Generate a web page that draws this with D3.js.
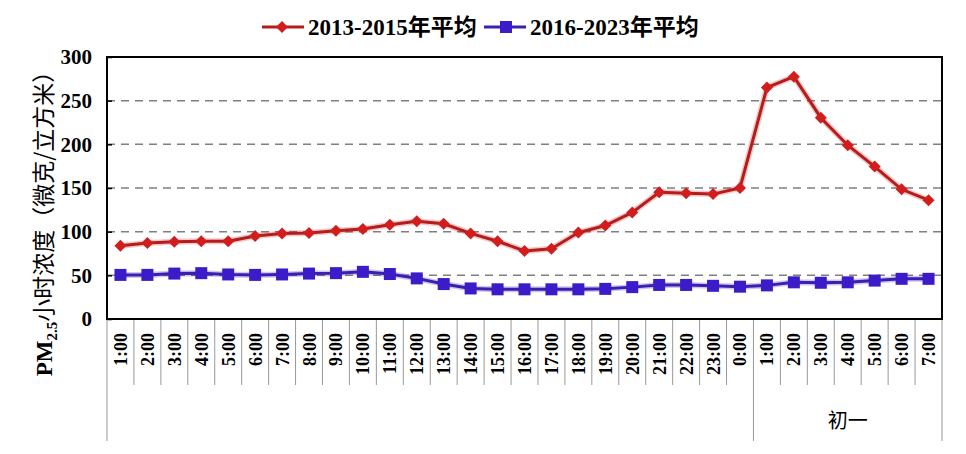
<!DOCTYPE html>
<html>
<head>
<meta charset="utf-8">
<script src="https://cdn.jsdelivr.net/npm/d3@7"></script>
<style>
  body { margin: 0; background: #fff; }
  svg { display: block; }
</style>
</head>
<body>
<div id="chart"></div>
<script>
// hour labels: eve 1:00 .. 0:00, then 初一 1:00 .. 7:00
var hours = ["1:00","2:00","3:00","4:00","5:00","6:00","7:00","8:00","9:00","10:00",
    "11:00","12:00","13:00","14:00","15:00","16:00","17:00","18:00","19:00","20:00",
    "21:00","22:00","23:00","0:00","1:00","2:00","3:00","4:00","5:00","6:00","7:00"];
var groups = [{label: "", count: 24}, {label: "初一", count: 7}];

var avg2013 = [84, 87, 88.5, 89, 89, 95, 98, 98.5, 101, 103,
    108, 112, 109, 98, 89, 78, 80.5, 99, 107, 122,
    145, 144, 143, 150, 265, 277.5, 230.5, 199, 174.5, 148.5, 136];
var avg2016 = [50.5, 50.5, 52, 52.5, 51, 50.5, 51, 52, 52.5, 54,
    51.5, 46.5, 40, 35, 34, 34, 34, 34, 34.5, 36.5,
    39, 39, 38, 37, 38.5, 42, 41.5, 42, 44, 46, 46];
var yTicks = [0, 50, 100, 150, 200, 250, 300];

var seriesNames = ["2013-2015年平均", "2016-2023年平均"];
var seriesColors = ["#d21d1d", "#3b1cc8"];

function main() {
    var W = 966, H = 454;
    var margin = {top: 57, right: 24, bottom: 135, left: 107};
    var width = W - margin.left - margin.right;
    var height = H - margin.top - margin.bottom;

    var svg = d3.select("#chart").append("svg")
        .attr("width", W)
        .attr("height", H);

    var g = svg.append("g")
        .attr("transform", `translate(${margin.left}, ${margin.top})`);

    var idx = d3.range(hours.length);
    var xScale = d3.scaleBand()
        .domain(idx)
        .range([0, width])
        .padding(0);

    var yScale = d3.scaleLinear()
        .domain([0, 300])
        .range([height, 0]);

    var serif = "'Liberation Serif', 'Times New Roman', 'Noto Sans CJK SC', serif";

    // dashed gridlines
    g.selectAll(".grid")
        .data(yTicks.filter(function(d) { return d > 0 && d < 300; }))
        .enter()
        .append("line")
        .attr("x1", 0)
        .attr("x2", width)
        .attr("y1", function(d) { return yScale(d); })
        .attr("y2", function(d) { return yScale(d); })
        .attr("stroke", "#7f7f7f")
        .attr("stroke-width", 1.5)
        .attr("stroke-dasharray", "8,6");

    // y axis
    var yAxis = g.append("g")
        .call(d3.axisLeft(yScale).tickValues(yTicks).tickSize(-5).tickPadding(15));
    yAxis.select(".domain").remove();
    yAxis.selectAll("line").attr("stroke", "#000").attr("stroke-width", 1.5);
    yAxis.selectAll("text")
        .style("font-family", serif)
        .style("font-weight", "bold")
        .style("font-size", "21px")
        .attr("fill", "#000");

    // category separators under the axis
    var bounds = d3.range(hours.length + 1);
    g.selectAll(".sep")
        .data(bounds)
        .enter()
        .append("line")
        .attr("x1", function(i) { return i * xScale.step(); })
        .attr("x2", function(i) { return i * xScale.step(); })
        .attr("y1", height)
        .attr("y2", function(i) {
            return (i === 0 || i === 24 || i === hours.length) ? height + 122 : height + 66;
        })
        .attr("stroke", "#999")
        .attr("stroke-width", 1);

    // hour labels, rotated
    g.selectAll(".hour")
        .data(idx)
        .enter()
        .append("text")
        .attr("transform", function(i) {
            return `translate(${xScale(i) + xScale.bandwidth() / 2 + 6.5}, ${height + 14}) rotate(-90)`;
        })
        .attr("text-anchor", "end")
        .style("font-family", serif)
        .style("font-weight", "bold")
        .style("font-size", "18px")
        .text(function(i) { return hours[i]; });

    // group labels
    var start = 0;
    groups.forEach(function(gr) {
        var cx = (start + gr.count / 2) * xScale.step();
        g.append("text")
            .attr("x", cx)
            .attr("y", height + 109)
            .attr("text-anchor", "middle")
            .style("font-family", "'Noto Sans CJK SC', sans-serif")
            .style("font-size", "20px")
            .text(gr.label);
        start += gr.count;
    });

    // lines
    var line = d3.line()
        .x(function(d, i) { return xScale(i) + xScale.bandwidth() / 2; })
        .y(function(d) { return yScale(d); });

    [avg2013, avg2016].forEach(function(vals, s) {
        g.append("path")
            .datum(vals)
            .attr("fill", "none")
            .attr("stroke", seriesColors[s])
            .attr("stroke-opacity", 0.25)
            .attr("stroke-width", 6)
            .attr("d", line);
        g.append("path")
            .datum(vals)
            .attr("fill", "none")
            .attr("stroke", s === 0 ? "#b51c1c" : "#3a1fb0")
            .attr("stroke-width", 3)
            .attr("d", line);
    });

    var diamond = d3.symbol().type(d3.symbolSquare).size(72);
    g.selectAll(".redPt")
        .data(avg2013)
        .enter()
        .append("path")
        .attr("d", diamond)
        .attr("transform", function(d, i) {
            return `translate(${xScale(i) + xScale.bandwidth() / 2}, ${yScale(d)}) rotate(45)`;
        })
        .attr("fill", seriesColors[0]);

    g.selectAll(".bluePt")
        .data(avg2016)
        .enter()
        .append("rect")
        .attr("x", function(d, i) { return xScale(i) + xScale.bandwidth() / 2 - 6; })
        .attr("y", function(d) { return yScale(d) - 6; })
        .attr("width", 12)
        .attr("height", 12)
        .attr("fill", seriesColors[1]);

    // frame
    g.append("rect")
        .attr("x", 0)
        .attr("y", 0)
        .attr("width", width)
        .attr("height", height)
        .attr("fill", "none")
        .attr("stroke", "#000")
        .attr("stroke-width", 2);

    // y title
    var title = svg.append("text")
        .attr("transform", `translate(52, 218) rotate(-90)`)
        .attr("text-anchor", "middle")
        .style("font-size", "23px");
    title.append("tspan")
        .style("font-family", serif)
        .style("font-weight", "bold")
        .text("PM");
    title.append("tspan")
        .style("font-family", serif)
        .style("font-weight", "bold")
        .style("font-size", "15px")
        .attr("dy", 5)
        .text("2.5");
    title.append("tspan")
        .style("font-family", "'Noto Sans CJK SC', sans-serif")
        .attr("dy", -5)
        .text("小时浓度（微克/立方米）");

    // legend
    var legend = svg.append("g").attr("transform", "translate(0, 27)");
    var lx = [262, 484];
    seriesNames.forEach(function(name, s) {
        var lg = legend.append("g").attr("transform", `translate(${lx[s]}, 0)`);
        lg.append("line")
            .attr("x1", 0).attr("x2", 42)
            .attr("stroke", s === 0 ? "#b51c1c" : "#3a1fb0")
            .attr("stroke-width", 3);
        if (s === 0) {
            lg.append("path")
                .attr("d", diamond)
                .attr("transform", "translate(20, 0) rotate(45)")
                .attr("fill", seriesColors[0]);
        } else {
            lg.append("rect")
                .attr("x", 16).attr("y", -6)
                .attr("width", 12).attr("height", 12)
                .attr("fill", seriesColors[1]);
        }
        lg.append("text")
            .attr("x", 46)
            .attr("y", 8)
            .style("font-family", serif)
            .style("font-weight", "bold")
            .style("font-size", "23px")
            .text(name);
    });
}

main();
</script>
</body>
</html>
